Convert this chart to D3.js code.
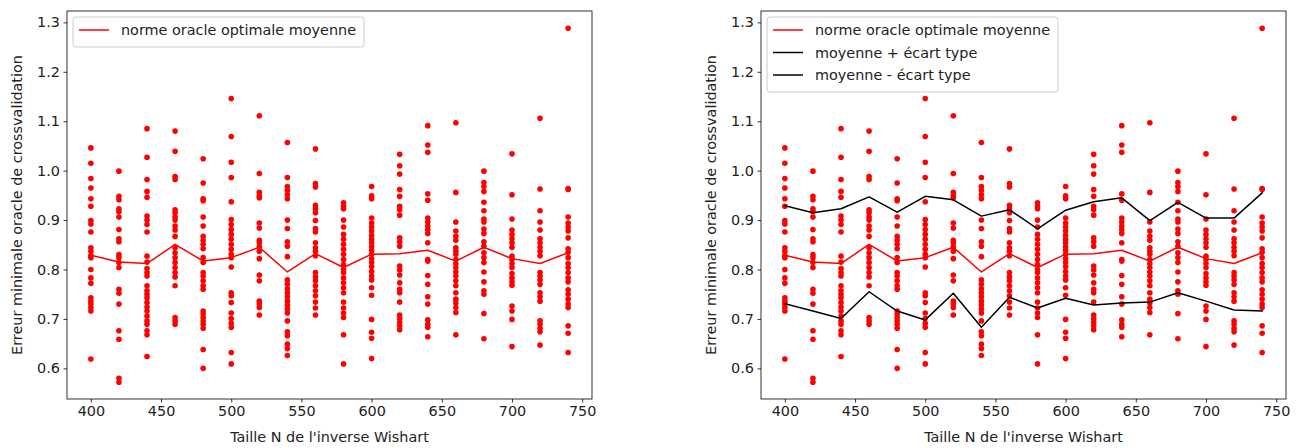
<!DOCTYPE html>
<html>
<head>
<meta charset="utf-8">
<script src="https://cdn.jsdelivr.net/npm/d3@7"></script>
<style>
  body { margin: 0; background: #fff; }
  svg { display: block; }
  text { font-family: "DejaVu Sans", sans-serif; }
</style>
</head>
<body>
<svg id="fig" width="1303" height="448"></svg>
<script>
// Taille N de l'inverse Wishart
const tailles = [400, 420, 440, 460, 480, 500, 520, 540, 560, 580, 600, 620, 640, 660, 680, 700, 720, 740];

// Erreur minimale (oracle) obtenue pour chaque tirage, par taille N
const erreurs400 = [1.046,1.015,0.984,0.965,0.943,0.928,0.899,0.892,0.876,0.844,0.837,0.828,0.824,0.800,0.783,0.772,0.743,0.736,0.730,0.723,0.716,0.619];
const erreurs420 = [0.999,0.948,0.941,0.923,0.917,0.906,0.881,0.862,0.856,0.830,0.824,0.814,0.804,0.760,0.752,0.730,0.676,0.659,0.580,0.572];
const erreurs440 = [1.085,1.027,0.982,0.958,0.946,0.908,0.900,0.891,0.876,0.827,0.815,0.802,0.794,0.787,0.767,0.757,0.750,0.743,0.733,0.724,0.716,0.706,0.696,0.689,0.676,0.668,0.624];
const erreurs460 = [1.080,1.039,0.988,0.982,0.921,0.915,0.906,0.900,0.888,0.880,0.867,0.844,0.834,0.824,0.814,0.804,0.794,0.785,0.767,0.703,0.696,0.689];
const erreurs480 = [1.024,0.975,0.943,0.939,0.906,0.888,0.867,0.859,0.851,0.842,0.824,0.814,0.794,0.787,0.777,0.767,0.760,0.716,0.710,0.703,0.696,0.689,0.681,0.638,0.600];
const erreurs500 = [1.146,1.069,1.017,0.986,0.937,0.901,0.891,0.881,0.871,0.861,0.851,0.841,0.831,0.824,0.805,0.753,0.747,0.733,0.712,0.701,0.691,0.683,0.632,0.609];
const erreurs520 = [1.111,0.994,0.956,0.949,0.945,0.894,0.884,0.859,0.854,0.846,0.837,0.822,0.789,0.777,0.736,0.730,0.723,0.708];
const erreurs540 = [1.057,0.986,0.968,0.960,0.951,0.943,0.900,0.883,0.856,0.847,0.826,0.779,0.770,0.761,0.753,0.745,0.736,0.728,0.720,0.712,0.696,0.674,0.666,0.649,0.640,0.626];
const erreurs560 = [1.044,0.974,0.967,0.930,0.923,0.915,0.899,0.883,0.876,0.854,0.844,0.837,0.828,0.794,0.785,0.777,0.767,0.757,0.747,0.734,0.722,0.708];
const erreurs580 = [0.935,0.928,0.923,0.900,0.886,0.871,0.861,0.851,0.841,0.831,0.820,0.810,0.800,0.794,0.783,0.773,0.763,0.753,0.734,0.722,0.712,0.703,0.668,0.609];
const erreurs600 = [0.968,0.949,0.943,0.904,0.894,0.886,0.878,0.869,0.861,0.854,0.846,0.839,0.831,0.822,0.814,0.806,0.796,0.787,0.779,0.763,0.748,0.699,0.673,0.661,0.620];
const erreurs620 = [1.033,1.010,0.993,0.962,0.948,0.928,0.921,0.910,0.864,0.856,0.847,0.807,0.799,0.789,0.773,0.760,0.753,0.734,0.708,0.701,0.693,0.686,0.678];
const erreurs640 = [1.091,1.052,1.037,0.953,0.940,0.904,0.896,0.888,0.881,0.873,0.854,0.820,0.817,0.788,0.770,0.745,0.730,0.698,0.689,0.683,0.664];
const erreurs660 = [1.097,0.956,0.896,0.878,0.867,0.859,0.844,0.837,0.831,0.820,0.812,0.804,0.795,0.787,0.777,0.767,0.753,0.740,0.732,0.723,0.713,0.668];
const erreurs680 = [0.999,0.976,0.968,0.958,0.936,0.919,0.902,0.896,0.882,0.873,0.856,0.847,0.834,0.824,0.814,0.795,0.775,0.757,0.750,0.711,0.660];
const erreurs700 = [1.034,0.951,0.902,0.880,0.871,0.862,0.854,0.845,0.827,0.820,0.812,0.804,0.792,0.783,0.775,0.768,0.726,0.716,0.699,0.644];
const erreurs720 = [1.106,0.963,0.919,0.896,0.880,0.862,0.854,0.845,0.837,0.828,0.794,0.787,0.779,0.770,0.753,0.745,0.736,0.696,0.689,0.681,0.674,0.647];
const erreurs740 = [1.288,0.964,0.962,0.906,0.894,0.886,0.878,0.864,0.842,0.835,0.824,0.812,0.804,0.794,0.783,0.775,0.759,0.750,0.740,0.730,0.723,0.686,0.671,0.632];

const erreurs = [erreurs400, erreurs420, erreurs440, erreurs460, erreurs480, erreurs500,
                 erreurs520, erreurs540, erreurs560, erreurs580, erreurs600, erreurs620,
                 erreurs640, erreurs660, erreurs680, erreurs700, erreurs720, erreurs740];

// Norme oracle optimale moyenne, et moyenne ± écart type
const moyenne      = [0.829,0.815,0.812,0.851,0.817,0.824,0.845,0.795,0.832,0.804,0.831,0.832,0.839,0.817,0.845,0.822,0.812,0.834];
const moyennePlus  = [0.929,0.915,0.923,0.947,0.916,0.948,0.941,0.908,0.921,0.882,0.920,0.937,0.945,0.899,0.936,0.904,0.904,0.955];
const moyenneMoins = [0.731,0.716,0.701,0.755,0.716,0.698,0.752,0.683,0.744,0.722,0.742,0.728,0.732,0.734,0.753,0.736,0.718,0.716];

const xTicks = [400, 450, 500, 550, 600, 650, 700, 750];
const yTicks = [0.6, 0.7, 0.8, 0.9, 1.0, 1.1, 1.2, 1.3];

const xLabel = "Taille N de l'inverse Wishart";
const yLabel = "Erreur minimale oracle de crossvalidation";

const svg = d3.select("#fig");
const FONT = 14.4;

const points = [];
tailles.forEach((n, i) => erreurs[i].forEach(v => points.push({ n, v })));

function panel(left, series, legendItems) {
  const top = 11, bottom = 399, width = 525;
  const x = d3.scaleLinear().domain([383, 757]).range([left, left + width]);
  const y = d3.scaleLinear().domain([0.538, 1.323]).range([bottom, top]);
  const g = svg.append("g");

  // scatter
  g.append("g").selectAll("circle").data(points).join("circle")
    .attr("cx", d => x(d.n)).attr("cy", d => y(d.v)).attr("r", 2.8)
    .attr("fill", "#ff0000");

  // lines
  const line = d3.line().x((d, i) => x(tailles[i])).y(d => y(d));
  series.forEach(s => {
    g.append("path").attr("d", line(s.values)).attr("fill", "none")
      .attr("stroke", s.color).attr("stroke-width", 1.5)
      .attr("stroke-linejoin", "round").attr("stroke-linecap", "square");
  });

  // frame
  g.append("rect").attr("x", left).attr("y", top).attr("width", width).attr("height", bottom - top)
    .attr("fill", "none").attr("stroke", "#000").attr("stroke-width", 0.8);

  // axes
  const ax = g.append("g").attr("transform", `translate(0,${bottom})`)
    .call(d3.axisBottom(x).tickValues(xTicks).tickSize(3.5).tickPadding(3.5).tickFormat(d3.format("d")));
  const ay = g.append("g").attr("transform", `translate(${left},0)`)
    .call(d3.axisLeft(y).tickValues(yTicks).tickSize(3.5).tickPadding(3.5).tickFormat(d3.format(".1f")));
  [ax, ay].forEach(a => {
    a.select(".domain").remove();
    a.selectAll("line").attr("stroke", "#000").attr("stroke-width", 0.8);
    a.selectAll("text").attr("font-size", FONT).attr("fill", "#222")
      .attr("font-family", "DejaVu Sans, sans-serif");
  });

  g.append("text").attr("x", left + width / 2).attr("y", 442)
    .attr("text-anchor", "middle").attr("font-size", FONT).attr("fill", "#222").text(xLabel);
  g.append("text").attr("transform", `translate(${left - 45},${(top + bottom) / 2}) rotate(-90)`)
    .attr("text-anchor", "middle").attr("font-size", FONT).attr("fill", "#222").text(yLabel);

  // legend
  const lg = g.append("g");
  const box = lg.append("rect").attr("x", left + 6).attr("y", 17).attr("rx", 3)
    .attr("fill", "#fff").attr("fill-opacity", 0.8).attr("stroke", "#cccccc").attr("stroke-width", 1);
  let maxW = 0;
  legendItems.forEach((it, i) => {
    const cy = 30 + i * 22.5;
    lg.append("line").attr("x1", left + 12).attr("x2", left + 42).attr("y1", cy).attr("y2", cy)
      .attr("stroke", it.color).attr("stroke-width", 1.5);
    const t = lg.append("text").attr("x", left + 54).attr("y", cy + 5)
      .attr("font-size", FONT).attr("fill", "#222").text(it.label);
    maxW = Math.max(maxW, t.node().getComputedTextLength());
  });
  box.attr("width", 48 + maxW + 8).attr("height", legendItems.length * 22.5 + 7.5);
}

panel(67,
  [{ values: moyenne, color: "#ff0000" }],
  [{ label: "norme oracle optimale moyenne", color: "#ff0000" }]);

panel(761,
  [{ values: moyenne, color: "#ff0000" },
   { values: moyennePlus, color: "#000" },
   { values: moyenneMoins, color: "#000" }],
  [{ label: "norme oracle optimale moyenne", color: "#ff0000" },
   { label: "moyenne + écart type", color: "#000" },
   { label: "moyenne - écart type", color: "#000" }]);
</script>
</body>
</html>
